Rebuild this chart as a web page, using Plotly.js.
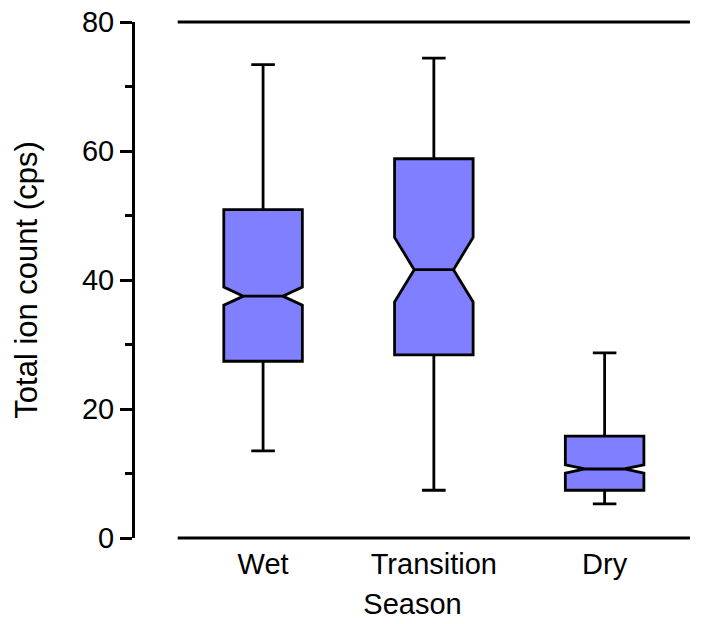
<!DOCTYPE html>
<html>
<head>
<meta charset="utf-8">
<script src="https://cdn.plot.ly/plotly-3.0.1.min.js"></script>
<style>html,body{margin:0;padding:0;background:#fff;}#chart{width:726px;height:624px;}</style>
</head>
<body>
<div id="chart"></div>
<script>
const seasons = ["Wet", "Transition", "Dry"];
const lowerWhisker = [13.5, 7.4, 5.3];
const q1Values = [27.4, 28.4, 7.4];
const medianValues = [37.5, 41.6, 10.7];
const q3Values = [50.9, 58.8, 15.8];
const upperWhisker = [73.4, 74.4, 28.7];
const notchSpans = [1.4, 5.0, 0.65];
const yTickValues = [0, 20, 40, 60, 80];

const trace = {
  type: "box",
  x: seasons,
  q1: q1Values,
  median: medianValues,
  q3: q3Values,
  lowerfence: lowerWhisker,
  upperfence: upperWhisker,
  notchspan: notchSpans,
  notched: true,
  notchwidth: 0.25,
  width: 0.46,
  whiskerwidth: 0.3,
  fillcolor: "#7f7fff",
  line: {color: "#000000", width: 2.8},
  boxpoints: false,
  hoverinfo: "skip",
  showlegend: false
};

const font = "Liberation Sans, Arial, sans-serif";
const fs = 29;
const xRange = [-0.75, 2.5];
const frameStart = (-0.5 - xRange[0]) / (xRange[1] - xRange[0]);

const layout = {
  width: 726,
  height: 624,
  margin: {l: 135, r: 36, t: 22, b: 86},
  paper_bgcolor: "#ffffff",
  plot_bgcolor: "#ffffff",
  font: {family: font, size: fs, color: "#000000"},
  xaxis: {
    type: "category",
    range: xRange,
    showline: false,
    showgrid: false,
    zeroline: false,
    ticks: "",
    ticklabelstandoff: 6,
    tickfont: {family: font, size: fs, color: "#000"},
    title: {text: "Season", font: {family: font, size: fs, color: "#000"}, standoff: 14}
  },
  yaxis: {
    range: [0, 80],
    tickvals: yTickValues,
    ticktext: yTickValues.map(String),
    showline: true,
    linecolor: "#000",
    linewidth: 3,
    showgrid: false,
    zeroline: false,
    ticks: "outside",
    ticklen: 12,
    tickwidth: 3,
    tickcolor: "#000",
    tickfont: {family: font, size: fs, color: "#000"},
    minor: {dtick: 10, ticks: "outside", ticklen: 7, tickwidth: 3, tickcolor: "#000", showgrid: false},
    title: {text: "Total ion count (cps)", font: {family: font, size: 31, color: "#000"}, standoff: 36}
  },
  shapes: [
    {type: "line", xref: "paper", yref: "paper", x0: frameStart, x1: 1, y0: 0, y1: 0, line: {color: "#000", width: 3}},
    {type: "line", xref: "paper", yref: "paper", x0: frameStart, x1: 1, y0: 1, y1: 1, line: {color: "#000", width: 3}}
  ]
};

Plotly.newPlot("chart", [trace], layout, {displayModeBar: false, staticPlot: true});
</script>
</body>
</html>
